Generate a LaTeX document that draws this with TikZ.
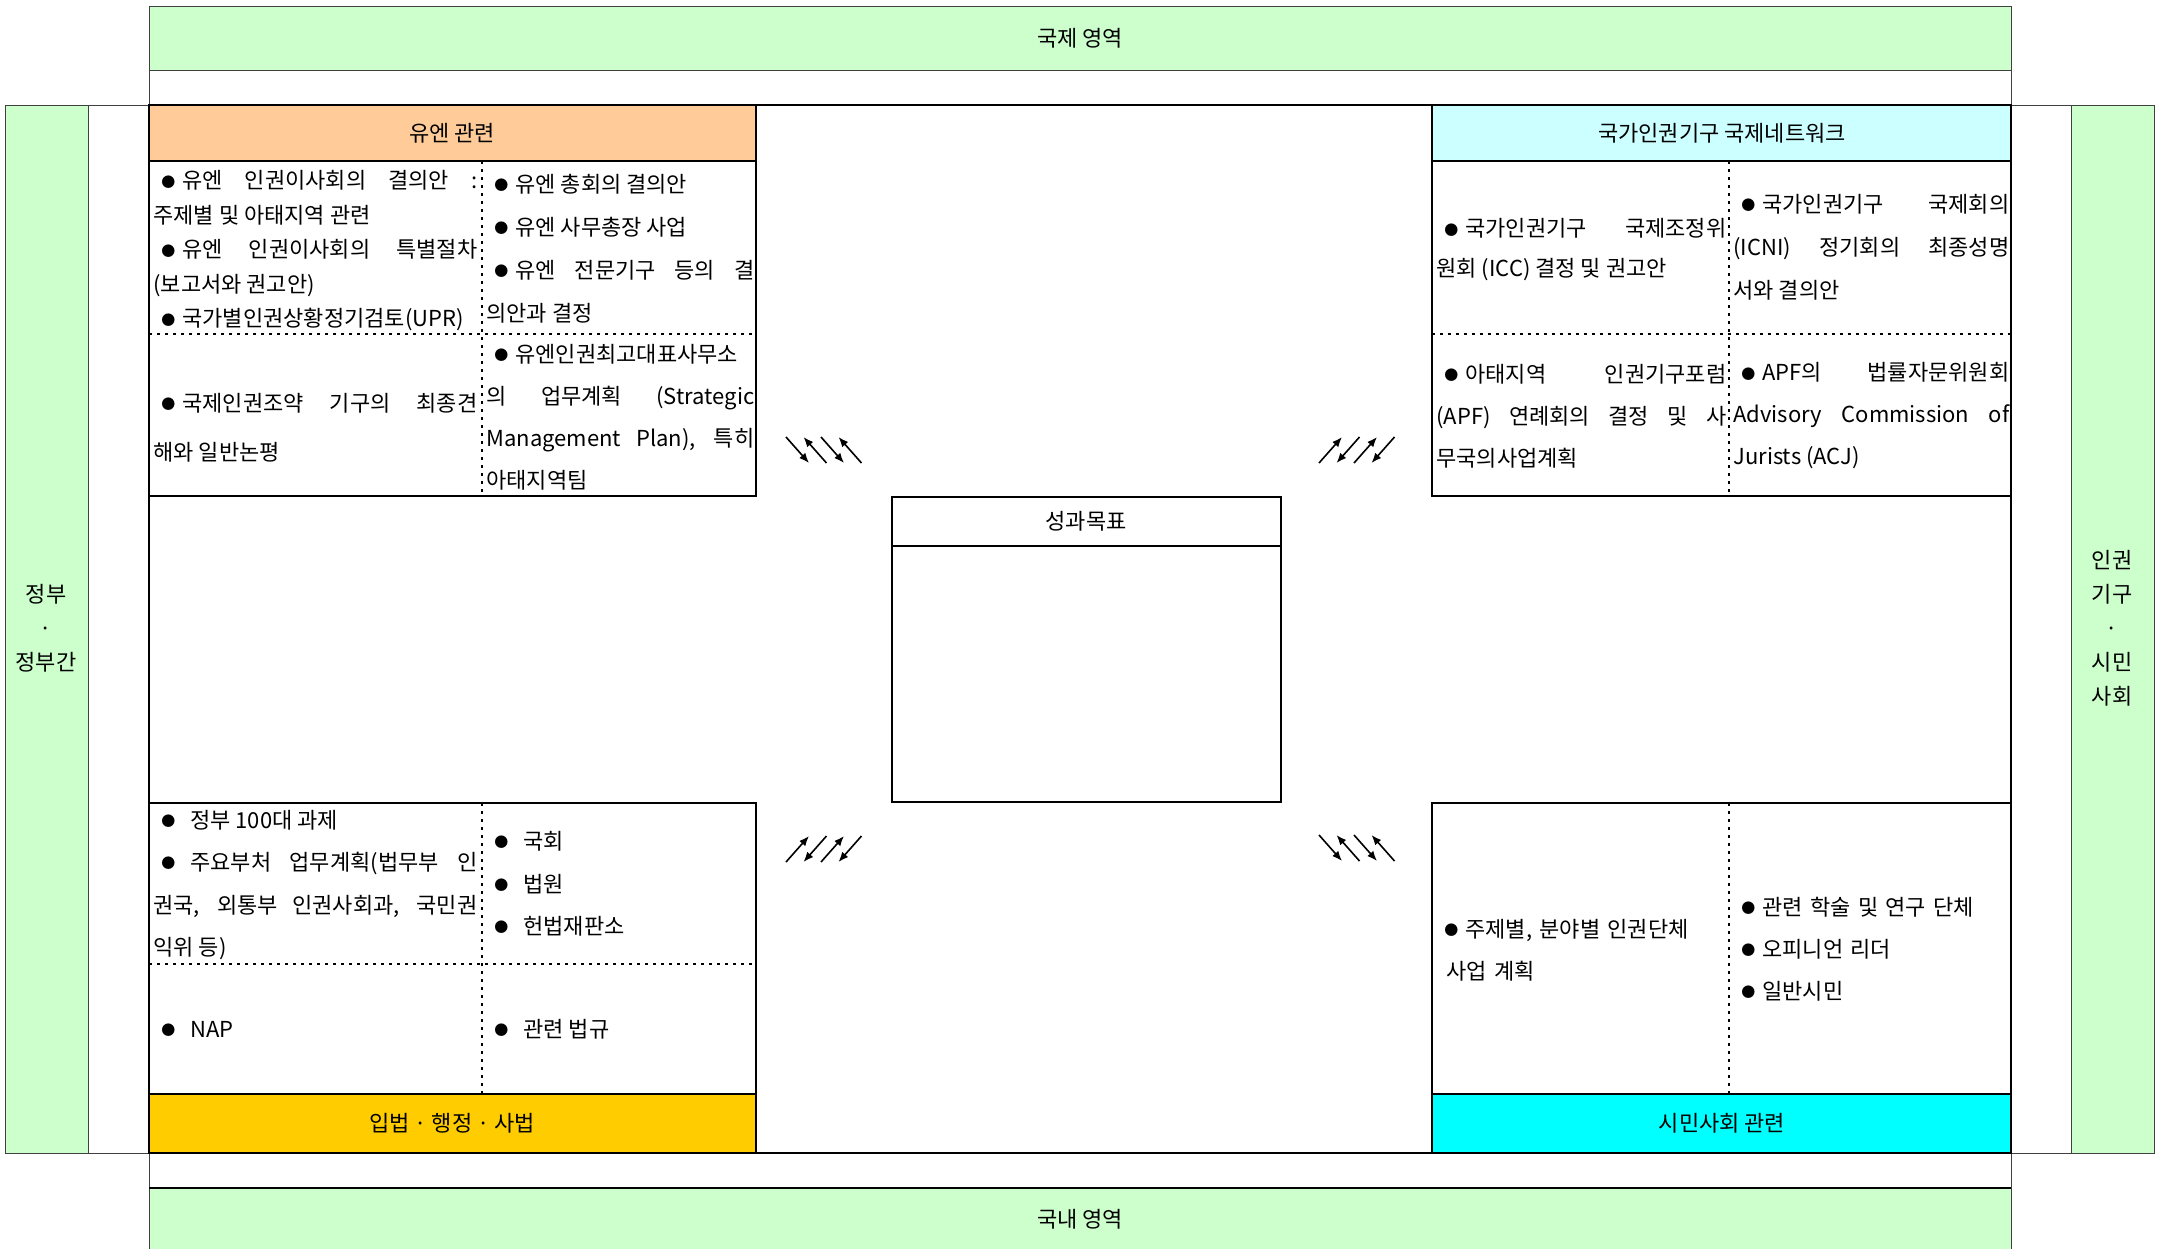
\documentclass[tikz,border=0pt]{standalone}
\usepackage{fontspec}
\setmainfont{Noto Sans CJK KR}
\usepackage{tikz}
\usetikzlibrary{arrows.meta}

\definecolor{bandgreen}{HTML}{CCFFCC}
\definecolor{unorange}{HTML}{FFCC99}
\definecolor{nhricyan}{HTML}{CCFFFF}
\definecolor{govyellow}{HTML}{FFCC00}
\definecolor{civcyan}{HTML}{00FFFF}

\newcommand{\bul}{\hspace*{4pt}\raisebox{0.15ex}{\fontsize{7}{7}\selectfont ●}\hspace{3.5pt}}

\tikzset{%
	>={Latex[width=4pt,length=5pt]},
	% Specifications for style of lines and texts:
	bandline/.style = {draw=black!75, line width=0.4pt},
	frame/.style = {draw=black, line width=1.4pt},
	boxline/.style = {draw=black, line width=1.3pt},
	dots/.style = {draw=black, line width=1.1pt, dash pattern=on 1.5pt off 2.5pt},
	flow/.style = {draw=black, line width=0.8pt},
	cell/.style = {anchor=west, inner sep=0pt, align=justify,
		font=\fontsize{11}{21}\selectfont},
	side/.style = {align=center, font=\fontsize{11}{17}\selectfont},
}

\begin{document}
\begin{tikzpicture}[x=0.5pt, y=-0.5pt,
		every node/.style={font=\fontsize{11}{17}\selectfont}]
		
		\useasboundingbox (0,0) rectangle (2158,1249);
		
		% Outer bands
		\draw[bandline, fill=bandgreen] (149,6) rectangle (2011,70);
		\node (intl) at (1080,38) {국제 영역};
		\draw[bandline] (149,70) -- (149,105) (2011,70) -- (2011,105);
		
		\draw[bandline, fill=bandgreen] (5,105) rectangle (88,1153);
		\draw[bandline] (88,105) rectangle (149,1153);
		\node (govside) [side] at (46,628) {정부\\·\\정부간};
		
		\draw[bandline] (2011,105) rectangle (2071,1153);
		\draw[bandline, fill=bandgreen] (2071,105) rectangle (2154,1153);
		\node (civside) [side] at (2112,628) {인권\\기구\\·\\시민\\사회};
		
		\fill[bandgreen] (149,1188) rectangle (2011,1249);
		\draw[bandline] (149,1153) -- (149,1249) (2011,1153) -- (2011,1249);
		\draw[draw=black, line width=0.8pt] (149,1188) -- (2011,1188);
		\node (dom) at (1080,1219) {국내 영역};
		
		\draw[frame] (149,105) rectangle (2011,1153);
		
		% UN box
		\draw[boxline, fill=unorange] (149,105) rectangle (756,161);
		\draw[boxline] (149,105) rectangle (756,496);
		\draw[dots] (482,161) -- (482,496);
		\draw[dots] (149,334) -- (756,334);
		\node (unhead) at (452,133) {유엔 관련};
		
		\node (unA) [cell, text width=162pt, font=\fontsize{11}{17.25}\selectfont] at (153,251)
		{\bul 유엔 인권이사회의 결의안 :\linebreak 주제별 및 아태지역 관련\\\bul 유엔 인권이사회의 특별절차\linebreak (보고서와 권고안)\\\bul 국가별인권상황정기검토(UPR)};
		\node (unB) [cell, text width=134pt, font=\fontsize{11}{21.5}\selectfont] at (486,249)
		{\bul 유엔 총회의 결의안\\\bul 유엔 사무총장 사업\\\bul 유엔 전문기구 등의 결\linebreak 의안과 결정};
		\node (unC) [cell, text width=162pt, font=\fontsize{11}{24.5}\selectfont] at (153,428)
		{\bul 국제인권조약 기구의 최종견\linebreak 해와 일반논평};
		\node (unD) [cell, text width=134pt] at (486,417)
		{\bul 유엔인권최고대표사무소\linebreak 의 업무계획 (Strategic\linebreak Management Plan), 특히\linebreak 아태지역팀};
		
		% NHRI box
		\draw[boxline, fill=nhricyan] (1432,105) rectangle (2011,161);
		\draw[boxline] (1432,105) rectangle (2011,496);
		\draw[dots] (1729,161) -- (1729,496);
		\draw[dots] (1432,334) -- (2011,334);
		\node (nhrihead) at (1722,133) {국가인권기구 국제네트워크};
		
		\node (nhriA) [cell, text width=145pt, font=\fontsize{11}{20}\selectfont] at (1436,250)
		{\bul 국가인권기구 국제조정위\linebreak 원회 (ICC) 결정 및 권고안};
		\node (nhriB) [cell, text width=138pt, font=\fontsize{11}{21.5}\selectfont] at (1733,247)
		{\bul 국가인권기구 국제회의\linebreak (ICNI) 정기회의 최종성명\linebreak 서와 결의안};
		\node (nhriC) [cell, text width=145pt] at (1436,416)
		{\bul 아태지역 인권기구포럼\linebreak (APF) 연례회의 결정 및 사\linebreak 무국의사업계획};
		\node (nhriD) [cell, text width=138pt] at (1733,416)
		{\bul APF의 법률자문위원회\linebreak Advisory Commission of\linebreak Jurists (ACJ)};
		
		% Goal box
		\draw[boxline, line width=1pt] (892,497) rectangle (1281,802);
		\draw[draw=black, line width=0.6pt] (892,546) -- (1281,546);
		\node (goal) at (1086,521) {성과목표};
		
		% Government box
		\draw[boxline] (149,803) rectangle (756,1153);
		\draw[boxline, fill=govyellow] (149,1094) rectangle (756,1153);
		\draw[dots] (482,803) -- (482,1094);
		\draw[dots] (149,964) -- (756,964);
		\node (govfoot) at (452,1123) {입법 · 행정 · 사법};
		
		\node (govA) [cell, text width=162pt, font=\fontsize{11}{21.25}\selectfont] at (153,885)
		{\bul\hspace{4pt}정부 100대 과제\\\bul\hspace{4pt}주요부처 업무계획(법무부 인\linebreak 권국, 외통부 인권사회과, 국민권\linebreak 익위 등)};
		\node (govB) [cell, text width=134pt, font=\fontsize{11}{21.25}\selectfont] at (486,884)
		{\bul\hspace{4pt}국회\\\bul\hspace{4pt}법원\\\bul\hspace{4pt}헌법재판소};
		\node (govC) [cell, text width=162pt] at (153,1029) {\bul\hspace{4pt}NAP};
		\node (govD) [cell, text width=134pt] at (486,1029) {\bul\hspace{4pt}관련 법규};
		
		% Civil society box
		\draw[boxline] (1432,803) rectangle (2011,1153);
		\draw[boxline, fill=civcyan] (1432,1094) rectangle (2011,1153);
		\draw[dots] (1729,803) -- (1729,1094);
		\node (civfoot) at (1722,1123) {시민사회 관련};
		
		\node (civA) [cell, text width=140pt, align=left] at (1436,950)
		{\bul 주제별, 분야별 인권단체\\\hspace*{5pt}사업 계획};
		\node (civB) [cell, text width=138pt, align=left] at (1733,949)
		{\bul 관련 학술 및 연구 단체\\\bul 오피니언 리더\\\bul 일반시민};
		
		% Two-way arrows between the boxes and the goal
		\foreach \gx/\gy/\sy in {786/437/26, 1319/835/26, 1319/463/-26, 786/862/-26}{
			\foreach \k in {0,2}
				\draw[->] [flow] (\gx+17.5*\k,\gy) -- ++(23,\sy);
			\foreach \k in {1,3}
				\draw[<-] [flow] (\gx+17.5*\k,\gy) -- ++(23,\sy);
		}
		
	\end{tikzpicture}
\end{document}
